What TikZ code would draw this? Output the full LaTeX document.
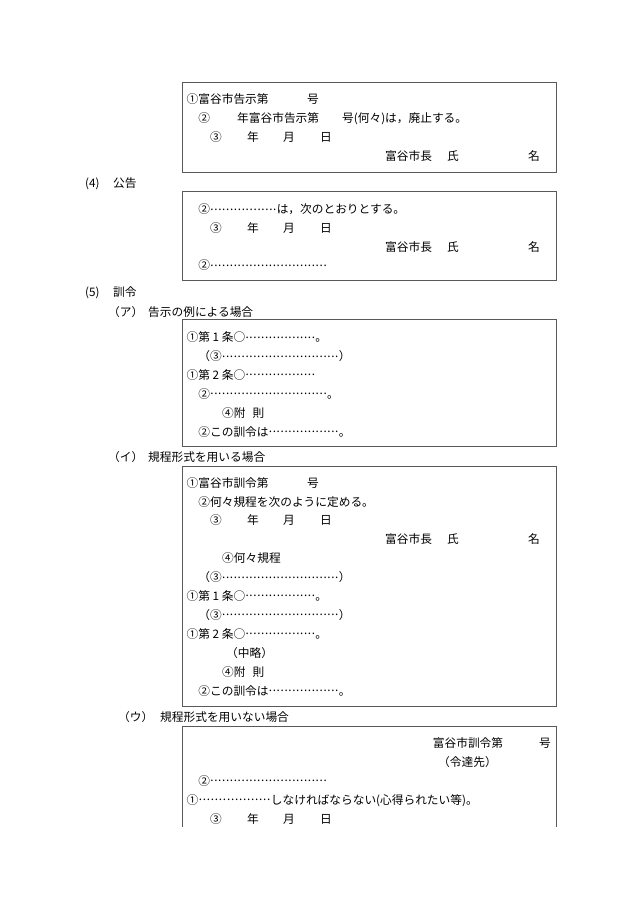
\documentclass[tikz,border=0pt]{standalone}
\usepackage{fontspec}
\newfontfamily\jp{Noto Sans CJK JP}
\newcommand\tdots[1]{\raisebox{0.3em}{\hbox to #1em{\xleaders\hbox to 0.3333em{\hss.\hss}\hfill}}}
\tikzset{
  frame/.style={draw=black!65, line width=0.9pt},
}
\begin{document}
\begin{tikzpicture}[x=1pt, y=-1pt,
    every node/.style={anchor=base west, inner sep=0pt, font=\jp\fontsize{11.7}{14}\selectfont}]
  \useasboundingbox (0,0) rectangle (630,915);
  % kokuji (haishi)
  \draw[frame] (182,82) rectangle (556,172);
  \draw
    (186.5,103.4) node (a1){①富谷市告示第}
    (307,103.4) node (a1n){号}
    (198.2,122.4) node (a2){②}
    (237,122.4) node (a2y){年富谷市告示第}
    (342,122.4) node (a2n){号(何々)は，廃止する。}
    (210,141.4) node (a3){③}
    (247,141.4) node (a3y){年}
    (283,141.4) node (a3m){月}
    (320,141.4) node (a3d){日}
    (385,160.4) node (a4){富谷市長}
    (447,160.4) node (a4s){氏}
    (528,160.4) node (a4m){名};
  % (4) koukoku
  \draw
    (85,187.1) node (h4){(4)}
    (113,187.1) node (h4t){公告};
  \draw[frame] (182,191) rectangle (556,280);
  \draw
    (198.2,213.7) node (b1){②\tdots{5.7}は，次のとおりとする。}
    (210,232.4) node (b2){③}
    (247,232.4) node (b2y){年}
    (283,232.4) node (b2m){月}
    (320,232.4) node (b2d){日}
    (385,251.4) node (b3){富谷市長}
    (447,251.4) node (b3s){氏}
    (528,251.4) node (b3m){名}
    (198.2,269.9) node (b4){②\tdots{10}};
  % (5) kunrei
  \draw
    (85,296.9) node (h5){(5)}
    (113,296.9) node (h5t){訓令}
    (108,316.1) node (ha){（ア）}
    (148,316.1) node (hat){告示の例による場合};
  \draw[frame] (182,319) rectangle (556,446);
  \draw
    (186.5,341.7) node (c1){①第 1 条○\tdots{6}。}
    (198.2,360.6) node (c2){（③\tdots{10}）}
    (186.5,379.5) node (c3){①第 2 条○\tdots{6}}
    (198.2,398.4) node (c4){②\tdots{10}。}
    (222,417.3) node (c5){④附\hspace{0.6em}則}
    (198.2,436.2) node (c6){②この訓令は\tdots{6}。};
  % (i) kitei keishiki
  \draw
    (108,461.1) node (hi){（イ）}
    (148,461.1) node (hit){規程形式を用いる場合};
  \draw[frame] (182,466) rectangle (556,706);
  \draw
    (186.5,487.1) node (d1){①富谷市訓令第}
    (307,487.1) node (d1n){号}
    (198.2,506.0) node (d2){②何々規程を次のように定める。}
    (210,524.9) node (d3){③}
    (247,524.9) node (d3y){年}
    (283,524.9) node (d3m){月}
    (320,524.9) node (d3d){日}
    (385,543.8) node (d4){富谷市長}
    (447,543.8) node (d4s){氏}
    (528,543.8) node (d4m){名}
    (222,562.7) node (d5){④何々規程}
    (198.2,581.6) node (d6){（③\tdots{10}）}
    (186.5,600.5) node (d7){①第 1 条○\tdots{6}。}
    (198.2,619.4) node (d8){（③\tdots{10}）}
    (186.5,638.3) node (d9){①第 2 条○\tdots{6}。}
    (226,657.2) node (d10){（中略）}
    (222,676.1) node (d11){④附\hspace{0.6em}則}
    (198.2,695.0) node (d12){②この訓令は\tdots{6}。};
  % (u) kitei keishiki nashi
  \draw
    (118,721.1) node (hu){（ウ）}
    (160,721.1) node (hut){規程形式を用いない場合};
  \draw[frame] (182,827) -- (182,726) -- (556,726) -- (556,827);
  \draw
    (432.7,747.7) node (e1){富谷市訓令第}
    (539,747.7) node (e1n){号}
    (438,766.6) node (e2){（令達先）}
    (198.2,785.5) node (e3){②\tdots{10}}
    (186.5,804.4) node (e4){①\tdots{6.2}しなければならない(心得られたい等)。}
    (210,823.3) node (e5){③}
    (247,823.3) node (e5y){年}
    (283,823.3) node (e5m){月}
    (320,823.3) node (e5d){日};
\end{tikzpicture}
\end{document}
